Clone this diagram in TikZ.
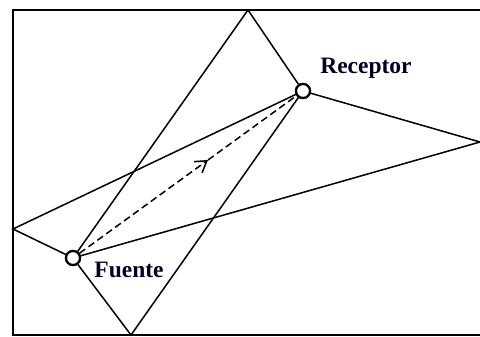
\documentclass[tikz,border=0pt]{standalone}
\usepackage{fontspec}
\setmainfont{Liberation Serif}
\usetikzlibrary{arrows.meta}
\begin{document}
\begin{tikzpicture}[x=1pt,y=-1pt,
  wall/.style={line width=2.6pt},
  ray/.style={line width=1.5pt},
  station/.style={circle,draw,line width=2.2pt,fill=white,minimum size=14pt,inner sep=0pt},
  lbl/.style={font=\bfseries\fontsize{23.5}{26}\selectfont,text=black!85!blue,inner sep=0pt}]
\useasboundingbox (0,0) rectangle (480,337);
% walls
\coordinate (c1) at (13,10);
\coordinate (c2) at (482,10);
\coordinate (c3) at (13,335);
\coordinate (c4) at (482,335);
\draw[wall] (c2) -- (c1) -- (c3) -- (c4);
% reflection points
\coordinate (T) at (248,10);
\coordinate (B) at (131,335);
\coordinate (L) at (13,229);
\coordinate (R) at (480,142);
\coordinate (M) at (208,160);
% stations
\node[station] (F) at (73,258) {};
\node[station] (Rc) at (303,91) {};
% rays
\draw[ray] (F) -- (T) -- (Rc);
\draw[ray] (F) -- (B) -- (Rc);
\draw[ray] (F) -- (L) -- (Rc);
\draw[ray] (F) -- (R) -- (Rc);
\draw[ray,dashed,dash pattern=on 7pt off 4pt,-{Straight Barb[length=11pt,width=14pt,line width=1.5pt]}] (F) -- (M);
\draw[ray,dashed,dash pattern=on 7pt off 4pt] (M) -- (Rc);
% redraw stations on top
\node[station] at (F) {};
\node[station] at (Rc) {};
% labels
\node[lbl] (lf) at (129,270) {Fuente};
\node[lbl] (lr) at (366,68) {Receptor};
\end{tikzpicture}
\end{document}
